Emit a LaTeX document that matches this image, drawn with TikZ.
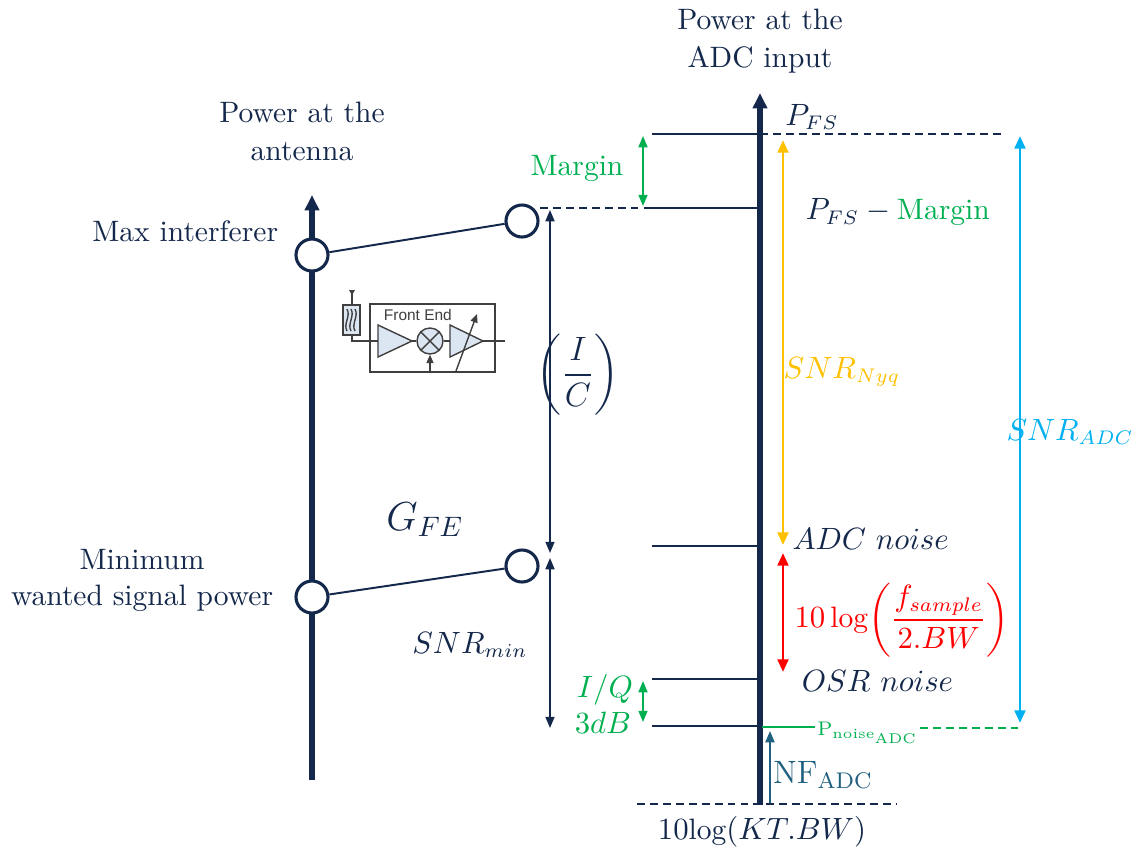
\documentclass[tikz,border=0pt]{standalone}
\usepackage{amsmath}
\usepackage{fontspec}
\usetikzlibrary{arrows.meta}
\newfontfamily\arialfont{Liberation Sans}
\definecolor{navy}{HTML}{14284B}
\definecolor{mgreen}{HTML}{00B050}
\definecolor{myellow}{HTML}{FFC000}
\definecolor{mblue}{HTML}{00B0F0}
\definecolor{mred}{HTML}{FF0000}
\definecolor{mteal}{HTML}{1F5F7F}
\definecolor{feblue}{HTML}{DCE6F2}
\definecolor{fegray}{HTML}{3F3F3F}
\tikzset{
  axis/.style={navy, line width=1.9pt, -{Triangle[length=5.5pt,width=5pt]}},
  lvl/.style={navy, line width=0.7pt},
  dash lvl/.style={navy, line width=0.7pt, dash pattern=on 2.8pt off 1.8pt},
  dbl/.style={line width=0.6pt, {Triangle[length=4pt,width=3.2pt]}-{Triangle[length=4pt,width=3.2pt]}},
  bar/.style={line width=1pt, {Triangle[length=4.5pt,width=3.8pt]}-{Triangle[length=4.5pt,width=3.8pt]}},
  lvlcirc/.style={circle, draw=navy, line width=1.1pt, fill=white, minimum size=0.4cm, inner sep=0pt},
  fe/.style={fegray, line width=0.5pt},
}
\begin{document}
\begin{tikzpicture}[x=0.0125cm, y=-0.0125cm, font=\fontsize{10.5}{13.5}\selectfont, text=navy]
\useasboundingbox (0,0) rectangle (1138,852);

% antenna axis
\draw[axis] (312,780) -- (312,195);
\node[lvlcirc] (imax) at (312,255) {};
\node[lvlcirc] (smin) at (312,597) {};
\node[lvlcirc] (ife) at (522,221) {};
\node[lvlcirc] (sfe) at (522,566) {};
\draw[lvl] (imax) -- (ife);
\draw[lvl] (smin) -- (sfe);

\node[align=center] (antlbl) at (302,131) {Power at the\\antenna};
\node[anchor=east] (imaxlbl) at (288,231) {Max interferer};
\node (minlbl) at (142,560) {Minimum};
\node[anchor=east] (wantlbl) at (283,598) {wanted signal power};

% front end block
\draw[fe, line width=0.8pt] (370,304) rectangle (495,372);
\node[anchor=west, font=\arialfont\fontsize{5.5}{6}\selectfont, text=fegray] (felbl) at (374,315) {Front End};
\draw[fe, line width=0.8pt, fill=feblue] (343,305) rectangle (360,335);
\foreach \wx in {347,351,355}
  \draw[fe] (\wx,309) .. controls (\wx+4,316) and (\wx-4,324) .. (\wx,331);
\draw[fe] (352,290) -- (352,305);
\fill[fegray] (349,290) -- (355,290) -- (352,295) -- cycle;
\draw[fe] (352,335) -- (352,341) -- (378,341);
\draw[fe, fill=feblue] (378,325) -- (412,341) -- (378,357) -- cycle;
\node[circle, draw=fegray, line width=0.5pt, fill=feblue, minimum size=0.325cm, inner sep=0pt] (mix) at (430,341) {};
\draw[fe] (mix.north west) -- (mix.south east);
\draw[fe] (mix.north east) -- (mix.south west);
\draw[fe] (412,341) -- (mix.west);
\draw[fe] (mix.east) -- (450,341);
\draw[fe, -{Triangle[length=3pt,width=2.5pt]}] (430,372) -- (mix.south);
\draw[fe, fill=feblue] (450,325) -- (483,341) -- (450,357) -- cycle;
\draw[fe, -{Triangle[length=3pt,width=2.5pt]}] (456,371) -- (477,314);
\draw[fe] (483,341) -- (505,341);

\node[font=\fontsize{14}{16}\selectfont] (gfe) at (425,520) {$G_{FE}$};

% ADC axis
\draw[axis] (760,805) -- (760,93);
\node[align=center] (adclbl) at (760,41) {Power at the\\ADC input};

% levels
\draw[lvl] (652,134) -- (760,134);
\draw[dash lvl] (760,134) -- (1003,134);
\draw[dash lvl] (540,208) -- (645,208);
\draw[lvl] (645,208) -- (760,208);
\draw[lvl] (652,546) -- (760,546);
\draw[lvl] (652,679) -- (760,679);
\draw[lvl] (652,726) -- (760,726);
\draw[dash lvl] (637,804) -- (897,804);
\draw[mgreen, line width=0.9pt] (762,727) -- (815,727);
\draw[mgreen, line width=0.9pt, dash pattern=on 2.8pt off 1.8pt] (920,728) -- (1022,728);

% arrows
\draw[dbl, navy] (550,210) -- (550,553);
\draw[dbl, navy] (550,558) -- (550,728);
\draw[dbl, mgreen] (643,136) -- (643,206);
\draw[dbl, mgreen] (643,681) -- (643,722);
\draw[bar, myellow] (783,140) -- (783,545);
\draw[bar, mred] (783,553) -- (783,672);
\draw[bar, mblue] (1020,136) -- (1020,723);
\draw[mteal, line width=0.7pt, -{Triangle[length=4pt,width=3.2pt]}] (770,803) -- (770,731);

% labels
\node[text=mgreen] (mglbl) at (577,168) {Margin};
\node (pfslbl) at (812,117) {$P_{FS}$};
\node[anchor=west] (pfsmlbl) at (796,212) {$P_{FS}-{}$\textcolor{mgreen}{Margin}};
\node[text=myellow] (nyqlbl) at (842,372) {$SNR_{Nyq}$};
\node[text=mblue] (snradc) at (1070,432) {$SNR_{ADC}$};
\node[font=\fontsize{12}{14}\selectfont] (iclbl) at (578,375) {$\left(\dfrac{I}{C}\right)$};
\node (snrmin) at (470,645) {$SNR_{min}$};
\node[anchor=west, inner sep=0pt] (adcn) at (792,539) {$ADC\ noise$};
\node[anchor=west, inner sep=0pt, text=mred, font=\fontsize{10.5}{13}\selectfont] (osrf) at (794,620) {$10\log\biggl(\dfrac{f_{sample}}{2.BW}\biggr)$};
\node[anchor=west] (osrn) at (792,681) {$OSR\ noise$};
\node[text=mgreen] (iqlbl) at (605,690) {$I/Q$};
\node[text=mgreen] (dblbl) at (603,723) {$3dB$};
\node[text=mgreen, font=\fontsize{7}{8}\selectfont] (pnlbl) at (868,733) {$\mathrm{P_{noise_{ADC}}}$};
\node[text=mteal, font=\fontsize{11.5}{13}\selectfont] (nflbl) at (823,775) {$\mathrm{NF_{ADC}}$};
\node (ktlbl) at (762,832) {$10\mathrm{log}(KT.BW)$};
\end{tikzpicture}
\end{document}
